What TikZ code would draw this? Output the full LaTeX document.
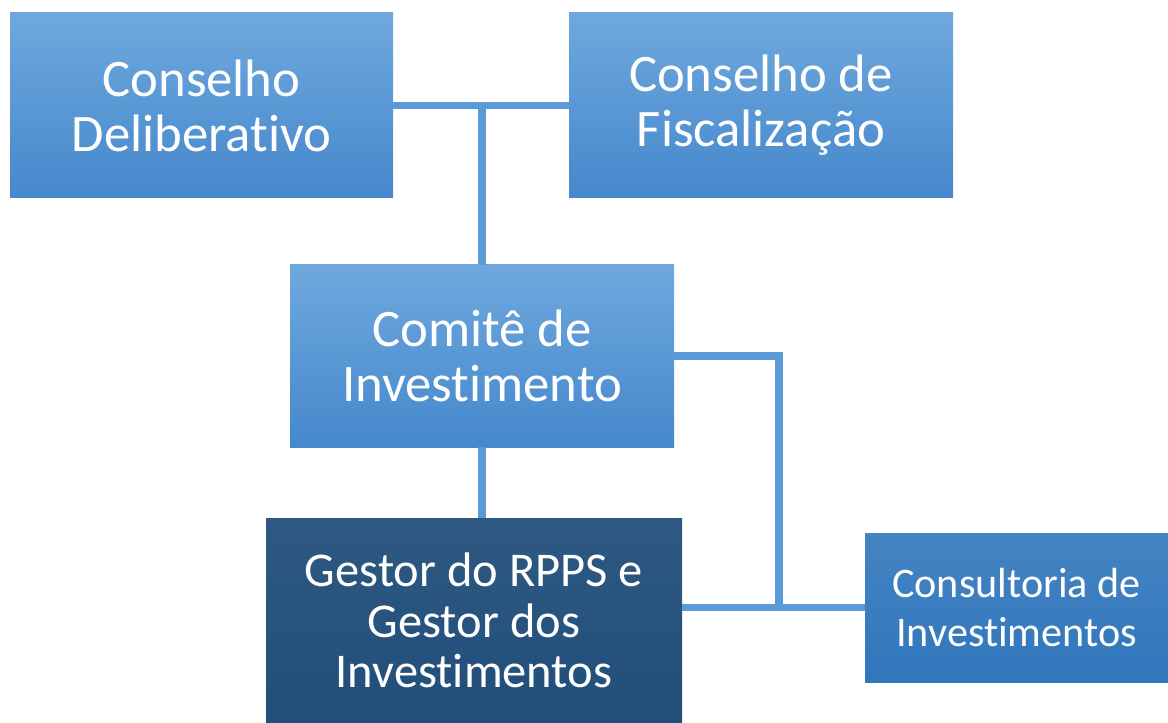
\documentclass[tikz,border=0pt]{standalone}
\usepackage{fontspec}
\setmainfont{Carlito}[Ligatures=NoCommon]
\definecolor{azulclaro}{RGB}{110,168,222}
\definecolor{azulmedio}{RGB}{70,136,204}
\definecolor{azulforte}{RGB}{48,118,188}
\definecolor{azulescuro}{RGB}{33,78,122}
\definecolor{linha}{RGB}{91,155,213}

\begin{document}
\begin{tikzpicture}[
    caixa/.style={shape=rectangle,top color=azulclaro,bottom color=azulmedio,draw=none,text=white,align=center,inner sep=0pt},
    liga/.style={draw=linha,line width=5.3pt}]
        \useasboundingbox (0,0) rectangle (29.2,-18.075);
        \node[caixa,minimum width=9.575cm,minimum height=4.625cm,font=\fontsize{37.5}{39}\selectfont](delib) at (5.0375,-2.6375) {Conselho\\Deliberativo};
        \node[caixa,minimum width=9.6cm,minimum height=4.625cm,font=\fontsize{37.5}{39}\selectfont](fisc) at (19.025,-2.6375) {Conselho de\\Fiscalização};
        \node[caixa,minimum width=9.6cm,minimum height=4.55cm,font=\fontsize{37.5}{39}\selectfont](comite) at (12.05,-8.9) {Comitê de\\Investimento};
        \node[caixa,top color=azulescuro!94!white,bottom color=azulescuro,minimum width=10.4cm,minimum height=5.125cm,font=\fontsize{34.5}{36}\selectfont](gestor) at (11.85,-15.5125) {Gestor do RPPS e\\Gestor dos\\Investimentos};
        \node[caixa,top color=azulforte!90!white,bottom color=azulforte,minimum width=7.575cm,minimum height=3.725cm,font=\fontsize{30}{35}\selectfont](consult) at (25.4125,-15.1875) {Consultoria de\\Investimentos};
        \coordinate (canto) at (19.475,-8.9);
        \path [liga] (delib.east) -- (fisc.west);
        \path [liga] (delib.east -| comite.north) -- (comite.north);
        \path [liga] (comite.south) -- (comite.south |- gestor.north);
        \path [liga] (comite.east) -- (canto) -- (canto |- consult.west);
        \path [liga] (gestor.east |- consult.west) -- (consult.west);
    \end{tikzpicture}
\end{document}
